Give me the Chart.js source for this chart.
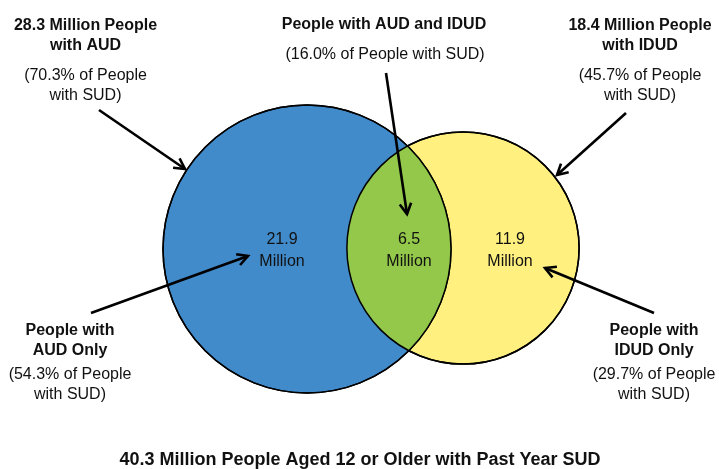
<!DOCTYPE html>
<html>
<head>
<meta charset="utf-8">
<script src="https://cdn.jsdelivr.net/npm/chart.js@4/dist/chart.umd.min.js"></script>
<style>
  html, body { margin: 0; padding: 0; background: #fff; }
  #wrap { width: 719px; height: 469px; position: relative; }
</style>
</head>
<body>
<div id="wrap"><canvas id="venn"></canvas></div>
<script>
// data (millions of people aged 12+)
const groups = ['AUD', 'IDUD'];
const groupTotals = [28.3, 18.4];
const groupPct = [70.3, 45.7];
const regionNames = ['AUD Only', 'AUD and IDUD', 'IDUD Only'];
const regionValues = [21.9, 6.5, 11.9];
const regionPct = [54.3, 16.0, 29.7];
const totalSUD = 40.3;

// layout, in canvas units (x scale 0..719, y scale 0..469)
const centers = [[307, 249], [463, 248]];
const pxPerRootMillion = 27.07;
const regionLabelPos = [[282, 244], [409, 244], [510, 244]];
const colors = { blue: '#428bca', yellow: '#fff07f', green: '#93c84a' };

const FONT = '"Liberation Sans", Arial, sans-serif';

function txt(ctx, s, x, y, size, bold) {
  ctx.font = (bold ? 'bold ' : '') + size + 'px ' + FONT;
  ctx.fillText(s, x, y);
}

function arrow(ctx, x1, y1, x2, y2) {
  const ang = Math.atan2(y2 - y1, x2 - x1);
  const len = 12, spread = 0.5;
  ctx.beginPath();
  ctx.moveTo(x1, y1);
  ctx.lineTo(x2, y2);
  ctx.stroke();
  ctx.beginPath();
  ctx.moveTo(x2 - len * Math.cos(ang - spread), y2 - len * Math.sin(ang - spread));
  ctx.lineTo(x2, y2);
  ctx.lineTo(x2 - len * Math.cos(ang + spread), y2 - len * Math.sin(ang + spread));
  ctx.stroke();
}

const vennPlugin = {
  id: 'venn',
  afterDatasetsDraw(chart) {
    const ctx = chart.ctx;
    const a = chart.getDatasetMeta(0).data[0];
    const b = chart.getDatasetMeta(1).data[0];
    const ra = a.options.radius, rb = b.options.radius;
    ctx.save();
    // overlap lens
    ctx.beginPath();
    ctx.arc(a.x, a.y, ra, 0, Math.PI * 2);
    ctx.clip();
    ctx.beginPath();
    ctx.arc(b.x, b.y, rb, 0, Math.PI * 2);
    ctx.fillStyle = colors.green;
    ctx.fill();
    ctx.restore();
    ctx.save();
    ctx.strokeStyle = '#000';
    ctx.lineWidth = 1.5;
    ctx.beginPath(); ctx.arc(a.x, a.y, ra, 0, Math.PI * 2); ctx.stroke();
    ctx.beginPath(); ctx.arc(b.x, b.y, rb, 0, Math.PI * 2); ctx.stroke();
    ctx.restore();
  },
  afterDraw(chart) {
    const ctx = chart.ctx;
    const X = v => chart.scales.x.getPixelForValue(v);
    const Y = v => chart.scales.y.getPixelForValue(v);
    ctx.save();
    ctx.fillStyle = '#111';
    ctx.textAlign = 'center';
    ctx.textBaseline = 'alphabetic';

    // values inside the circles
    regionValues.forEach((v, i) => {
      const p = regionLabelPos[i];
      txt(ctx, v.toFixed(1), X(p[0]), Y(p[1]), 16, false);
      txt(ctx, 'Million', X(p[0]), Y(p[1] + 21.5), 16, false);
    });

    // group totals, top corners
    [[85.5, 0], [640, 1]].forEach(([cx, i]) => {
      txt(ctx, groupTotals[i] + ' Million People', X(cx), Y(30), 16, true);
      txt(ctx, 'with ' + groups[i], X(cx), Y(50), 16, true);
      txt(ctx, '(' + groupPct[i].toFixed(1) + '% of People', X(cx), Y(80), 16, false);
      txt(ctx, 'with SUD)', X(cx), Y(100), 16, false);
    });

    // overlap, top centre
    txt(ctx, 'People with ' + regionNames[1], X(384), Y(29), 16, true);
    txt(ctx, '(' + regionPct[1].toFixed(1) + '% of People with SUD)', X(385), Y(59), 16, false);

    // only regions, bottom corners
    [[70, 0], [654, 2]].forEach(([cx, i]) => {
      txt(ctx, 'People with', X(cx), Y(335), 16, true);
      txt(ctx, regionNames[i], X(cx), Y(355), 16, true);
      txt(ctx, '(' + regionPct[i].toFixed(1) + '% of People', X(cx), Y(379), 16, false);
      txt(ctx, 'with SUD)', X(cx), Y(399), 16, false);
    });

    txt(ctx, totalSUD + ' Million People Aged 12 or Older with Past Year SUD', X(360), Y(465), 18, true);

    // arrows
    ctx.strokeStyle = '#000';
    ctx.lineWidth = 2.6;
    ctx.lineCap = 'butt';
    ctx.lineJoin = 'miter';
    [
      [99, 110, 185, 169],
      [386, 73, 407, 214],
      [626, 113, 557, 175],
      [91, 313, 248, 256],
      [654, 313, 545, 268]
    ].forEach(s => arrow(ctx, X(s[0]), Y(s[1]), X(s[2]), Y(s[3])));
    ctx.restore();
  }
};

new Chart(document.getElementById('venn'), {
  type: 'bubble',
  data: {
    datasets: groups.map((g, i) => ({
      label: g,
      data: [{ x: centers[i][0], y: centers[i][1], r: pxPerRootMillion * Math.sqrt(groupTotals[i]) }],
      backgroundColor: i === 0 ? colors.blue : colors.yellow,
      borderColor: '#000',
      borderWidth: 1.5,
      clip: false
    }))
  },
  options: {
    responsive: true,
    maintainAspectRatio: false,
    animation: false,
    events: [],
    layout: { padding: 0, autoPadding: false },
    plugins: { legend: { display: false }, tooltip: { enabled: false } },
    scales: {
      x: { type: 'linear', min: 0, max: 719, display: false },
      y: { type: 'linear', min: 0, max: 469, reverse: true, display: false }
    }
  },
  plugins: [vennPlugin]
});
</script>
</body>
</html>
